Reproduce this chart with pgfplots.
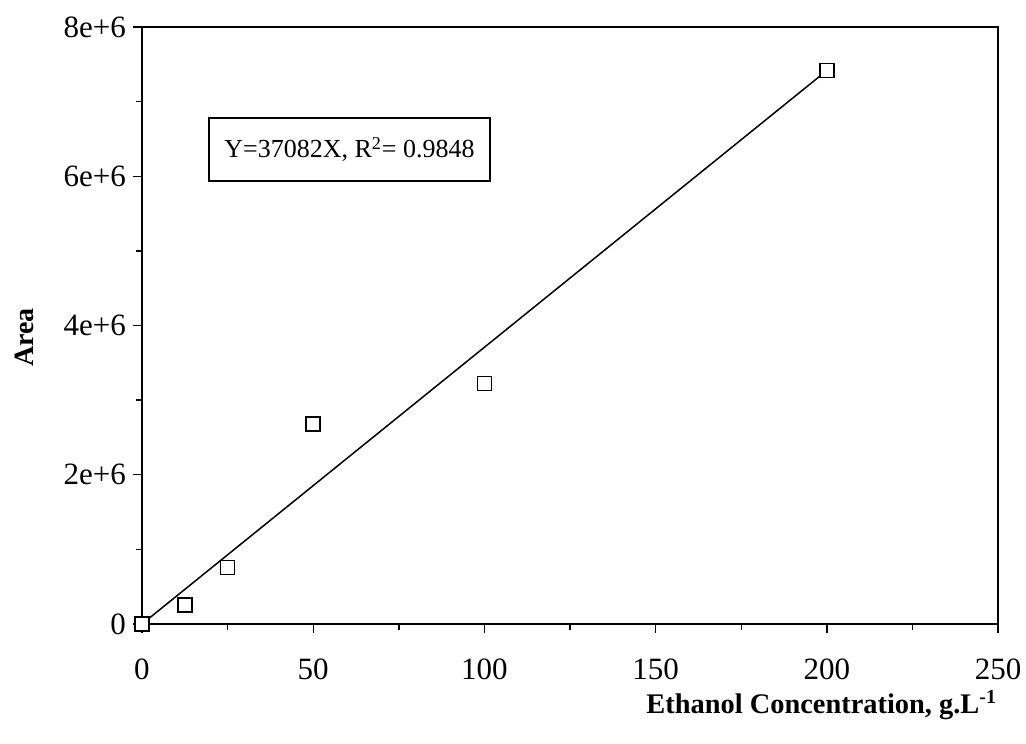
\documentclass[border=0pt]{standalone}
\usepackage{pgfplots}
\pgfplotsset{compat=1.18}
\usepackage{fontspec}
\setmainfont{Liberation Serif}

\begin{document}
\begin{tikzpicture}
\useasboundingbox (-71pt,-59.5pt) rectangle (442pt,312pt);
\begin{axis}[
    at={(0,0)}, anchor=south west,
    scale only axis,
    width=428pt, height=298.5pt,
    xmin=0, xmax=250, ymin=0, ymax=8e6,
    xtick={0,50,...,250},
    ytick={0,2e6,4e6,6e6,8e6},
    yticklabels={0,2e+6,4e+6,6e+6,8e+6},
    scaled y ticks=false,
    minor tick num=1,
    tick pos=left, tick align=outside,
    major tick length=4.5pt, minor tick length=3pt,
    axis line style={line width=0.9pt},
    tick style={line width=0.7pt, black},
    /pgf/number format/assume math mode=true,
    ticklabel style={font=\fontsize{15.5}{18}\selectfont},
    xticklabel style={yshift=-9.5pt},
    xlabel={Ethanol Concentration, g.L\textsuperscript{-1}},
    xlabel style={font=\bfseries\fontsize{14.2}{16}\selectfont,
        at={(axis description cs:1,0)}, anchor=east, yshift=-40.5pt, xshift=3pt},
    ylabel={Area},
    ylabel style={font=\bfseries\fontsize{14}{16}\selectfont,
        at={(axis description cs:-0.137,0.48)}, anchor=center},
    clip=false,
]
% fitted line Y = 37082 X
\addplot[black, line width=0.75pt] coordinates {(0,0) (200,7416400)};

\addplot[only marks, mark=square*, mark size=3.5pt,
    mark options={fill=white, draw=black, line width=0.75pt}]
    coordinates {
        (0,0)
        (12.5,255000)
        (25,760000)
        (50,2680000)
        (100,3220000)
        (200,7420000)
    };

\node[draw, line width=0.75pt, fill=white, minimum width=140.5pt, minimum height=31.5pt,
      font=\fontsize{13}{15}\selectfont]
    at (axis cs:60.6,6.36e6) {Y=37082X, R\textsuperscript{2}= 0.9848};
\end{axis}
\end{tikzpicture}
\end{document}
